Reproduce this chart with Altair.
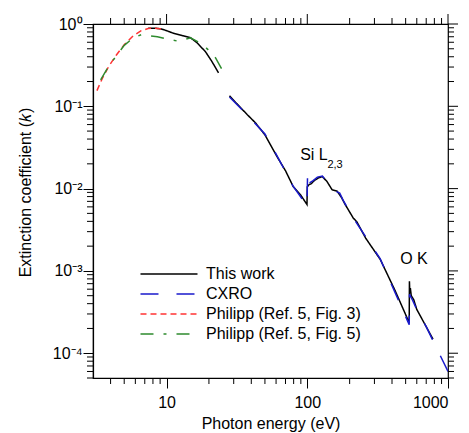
import altair as alt
import pandas as pd

# ---- data ----
series_names = ["This work", "CXRO", "Philipp (Ref. 5, Fig. 3)", "Philipp (Ref. 5, Fig. 5)"]

black1_E = [7.4, 8.3, 9.2, 10.2, 11.2, 13.0, 14.8, 16.5, 18.9, 21.0, 23.4]
black1_k = [0.885, 0.89, 0.87, 0.82, 0.77, 0.72, 0.68, 0.59, 0.46, 0.35, 0.255]

black2_E = [28, 32, 37.5, 42.8, 50, 61, 70, 79.4, 90, 99.5, 100, 103, 107, 112, 120, 128,
            138, 150, 163, 175, 186, 212, 226, 260, 330, 420, 530, 532, 535, 540, 548,
            570, 600, 700, 783]
black2_k = [0.134, 0.105, 0.079, 0.063, 0.045, 0.0244, 0.0165, 0.0106, 0.0083, 0.0064,
            0.0105, 0.0112, 0.0115, 0.0125, 0.0135, 0.014, 0.0122, 0.0097, 0.0093, 0.0078,
            0.0064, 0.0044, 0.0039, 0.0025, 0.00138, 0.00058, 0.000235, 0.00075, 0.00055,
            0.00062, 0.0005, 0.00045, 0.00034, 0.00021, 0.000148]

cxro_E = [28, 37, 50, 61, 79, 99.5, 100.5, 101.5, 110, 118, 128, 140, 155, 170, 180, 212,
          330, 530, 533, 560, 600, 700, 1000]
cxro_k = [0.13, 0.08, 0.046, 0.025, 0.0108, 0.0062, 0.0156, 0.0115, 0.0125, 0.0138, 0.0142,
          0.0118, 0.0095, 0.0088, 0.0072, 0.0044, 0.0014, 0.000222, 0.00052, 0.00044,
          0.00034, 0.00021, 0.00006]

fig3_E = [3.2, 3.5, 3.9, 4.4, 5.0, 5.8, 6.6, 7.4, 8.1, 9.0, 9.6]
fig3_k = [0.155, 0.22, 0.31, 0.42, 0.56, 0.72, 0.83, 0.88, 0.895, 0.875, 0.86]

fig5_E = [3.4, 3.8, 4.3, 5.0, 5.8, 6.6, 7.6, 8.6, 10.0, 12.0, 13.5, 14.8, 16.9, 18.5,
          19.9, 22.3, 25.4]
fig5_k = [0.21, 0.29, 0.39, 0.55, 0.68, 0.74, 0.72, 0.70, 0.66, 0.62, 0.65, 0.68, 0.60,
          0.54, 0.48, 0.387, 0.26]

x_major = [10, 100, 1000]
x_minor = [4, 5, 6, 7, 8, 9, 20, 30, 40, 50, 60, 70, 80, 90,
           200, 300, 400, 500, 600, 700, 800, 900]
y_major = [1e-4, 1e-3, 1e-2, 1e-1, 1]
y_minor = [m * d for d in [1e-5, 1e-4, 1e-3, 1e-2, 1e-1] for m in range(2, 10) if m * d >= 5e-5]

ann_text = ["Si L", "2,3", "O K"]
ann_E = [89, 139, 457]
ann_k = [0.0225, 0.018, 0.0012]
ann_size = [16, 11, 16]

# ---- build table ----
rows = []
def add(name, seg, E, k):
    for e, v in zip(E, k):
        rows.append({"series": name, "seg": seg, "E": e, "k": v})

add(series_names[0], "b1", black1_E, black1_k)
add(series_names[0], "b2", black2_E, black2_k)
add(series_names[1], "c", cxro_E, cxro_k)
add(series_names[2], "r", fig3_E, fig3_k)
add(series_names[3], "g", fig5_E, fig5_k)
df = pd.DataFrame(rows)

FONT = "Liberation Sans"
W, H = 355, 354
xdom = [3, 1000]
ydom = [5e-5, 1]
xs = alt.Scale(type="log", domain=xdom, nice=False)
ys = alt.Scale(type="log", domain=ydom, nice=False)

lines = alt.Chart(df).mark_line(strokeWidth=1.5, clip=True).encode(
    x=alt.X("E:Q", scale=xs,
            axis=alt.Axis(values=x_major, tickSize=10, labelPadding=6, format="d",
                          title="Photon energy (eV)", titleY=37, titleBaseline="top",
                          grid=False)),
    y=alt.Y("k:Q", scale=ys,
            axis=alt.Axis(values=y_major, tickSize=10, labelPadding=1,
                          labelExpr="'10' + (datum.value >= 0.5 ? '⁰' : '⁻' + ['', '¹', '²', '³', '⁴', '⁵'][round(-log(datum.value)/LN10)])",
                          title="Extinction coefficient (𝑘)", titleX=-68, titleY=168,
                          titleAlign="center", titleBaseline="middle", titleAngle=270,
                          grid=False)),
    color=alt.Color("series:N",
                    scale=alt.Scale(domain=series_names,
                                    range=["#000000", "#1a1acc", "#ff3333", "#2e8b2e"]),
                    legend=alt.Legend(title=None, orient="none", legendX=68, legendY=242,
                                      symbolType="M-5,0L5,0", symbolSize=130,
                                      symbolStrokeWidth=1.5, labelFont=FONT,
                                      labelFontSize=16, labelColor="black",
                                      labelOffset=29, rowPadding=4, padding=0)),
    strokeDash=alt.StrokeDash("series:N",
                              scale=alt.Scale(domain=series_names,
                                              range=[[1, 0], [18, 18], [6, 4], [13, 10, 3, 10]]),
                              legend=None),
    detail="seg:N",
    order=alt.Order("E:Q"),
)

tick_style = dict(color="black", strokeWidth=1)

xmaj_df = pd.DataFrame({"v": x_major})
xmin_df = pd.DataFrame({"v": x_minor})
ymaj_df = pd.DataFrame({"v": y_major})
ymin_df = pd.DataFrame({"v": y_minor})

top_major = alt.Chart(xmaj_df).mark_rule(**tick_style).encode(
    x=alt.X("v:Q", scale=xs), y=alt.value(-10), y2=alt.value(0))
top_minor = alt.Chart(xmin_df).mark_rule(**tick_style).encode(
    x=alt.X("v:Q", scale=xs), y=alt.value(-6), y2=alt.value(0))
bot_minor = alt.Chart(xmin_df).mark_rule(**tick_style).encode(
    x=alt.X("v:Q", scale=xs), y=alt.value(H), y2=alt.value(H + 6))
left_minor = alt.Chart(ymin_df).mark_rule(**tick_style).encode(
    y=alt.Y("v:Q", scale=ys), x=alt.value(-6), x2=alt.value(0))
right_major = alt.Chart(ymaj_df).mark_rule(**tick_style).encode(
    y=alt.Y("v:Q", scale=ys), x=alt.value(W), x2=alt.value(W + 10))
right_minor = alt.Chart(ymin_df).mark_rule(**tick_style).encode(
    y=alt.Y("v:Q", scale=ys), x=alt.value(W), x2=alt.value(W + 6))

ann_df = pd.DataFrame({"t": ann_text, "E": ann_E, "k": ann_k, "s": ann_size})
ann = alt.Chart(ann_df).mark_text(font=FONT, align="left", baseline="alphabetic",
                                  color="black").encode(
    x=alt.X("E:Q", scale=xs), y=alt.Y("k:Q", scale=ys), text="t:N",
    size=alt.Size("s:Q", scale=None, legend=None))

chart = alt.layer(lines, top_major, top_minor, bot_minor, left_minor, right_major,
                  right_minor, ann).properties(
    width=W, height=H,
    background="white",
    autosize=alt.AutoSizeParams(type="none"),
    padding={"left": 93, "top": 24, "right": 21, "bottom": 55},
).configure_view(stroke="black", strokeWidth=1.2).configure_axis(
    labelFont=FONT, titleFont=FONT, labelFontSize=16, titleFontSize=16,
    labelColor="black", titleColor="black", titleFontWeight="normal",
    domainColor="black", tickColor="black", tickWidth=1, domainWidth=1.2,
)

chart.save("out.html", embed_options={"renderer": "svg", "actions": False})
